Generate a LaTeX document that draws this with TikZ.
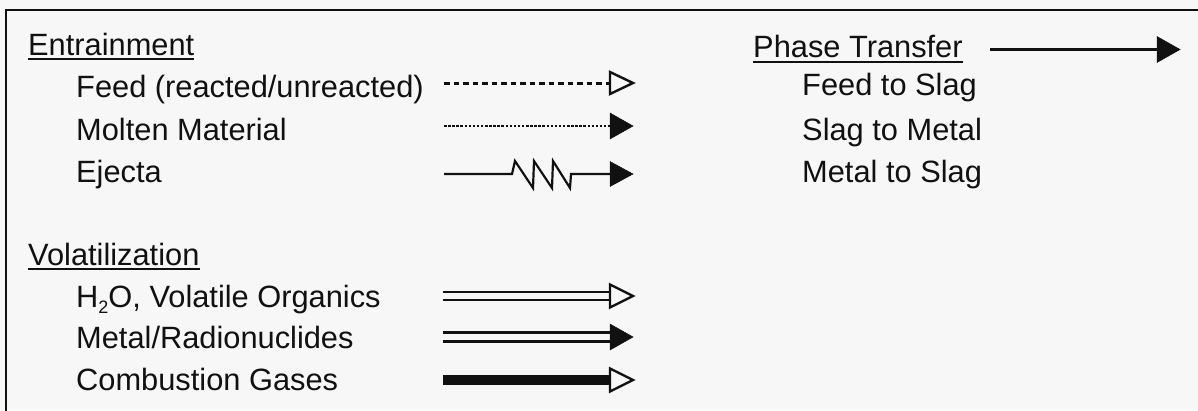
\documentclass[tikz,border=0pt]{standalone}
\usepackage{fontspec}
\setmainfont{Liberation Sans}
\definecolor{bgc}{HTML}{F7F7F7}
\definecolor{ink}{HTML}{111111}
\newcommand{\legtri}[4]{%
  \filldraw[line width=#4, line join=miter, draw=ink, fill=#3]
    ([yshift=#2pt]#1) -- ([xshift=23pt]#1) -- ([yshift=-#2pt]#1) -- cycle;}
\begin{document}
\begin{tikzpicture}[x=1pt,y=-1pt,
  lbl/.style={anchor=base west, inner sep=0pt, text=ink, font=\fontsize{30.8}{36}\selectfont},
  uline/.style={draw=ink, line width=2pt},
  legline/.style={draw=ink, line width=2.2pt}]
\fill[bgc] (0,0) rectangle (1198,410);
\useasboundingbox (0,0) rectangle (1198,410);
\draw[ink, line width=2pt] (6,412) -- (6,9.5) -- (1200,9.5);

% left column
\node[lbl] (entr) at (28,55) {Entrainment};
\draw[uline] ([yshift=-4pt]entr.base west) -- ([yshift=-4pt]entr.base east);
\node[lbl] (feed) at (76,97) {Feed (reacted/unreacted)};
\node[lbl] (molten) at (76,140) {Molten Material};
\node[lbl] (ejecta) at (76,182) {Ejecta};
\node[lbl] (vol) at (28,265) {Volatilization};
\draw[uline] ([yshift=-4pt]vol.base west) -- ([yshift=-4pt]vol.base east);
\node[lbl] (h2o) at (76,307) {H\raisebox{-6pt}{\fontsize{18}{18}\selectfont 2}O, Volatile Organics};
\node[lbl] (metrad) at (76,348) {Metal/Radionuclides};
\node[lbl] (comb) at (76,390) {Combustion Gases};

% right column
\node[lbl] (phase) at (753,57) {Phase Transfer};
\draw[uline] ([yshift=-5pt]phase.base west) -- ([yshift=-5pt]phase.base east);
\node[lbl] (fts) at (802,95) {Feed to Slag};
\node[lbl] (stm) at (802,140) {Slag to Metal};
\node[lbl] (mts) at (802,182) {Metal to Slag};

% legend arrow coordinates
\coordinate (fa) at (444,83);   \coordinate (fb) at (610,83);
\coordinate (ma) at (444,126);  \coordinate (mb) at (610,126);
\coordinate (ea) at (444,174);  \coordinate (eb) at (610,174);
\coordinate (ha) at (443,296);  \coordinate (hb) at (610,296);
\coordinate (ra) at (443,337);  \coordinate (rb) at (610,337);
\coordinate (ca) at (443,380);  \coordinate (cb) at (610,380);
\coordinate (pa) at (990,49.5); \coordinate (pb) at (1157,49.5);

% Feed: dashed, open head
\draw[ink, line width=3pt, dash pattern=on 5.5pt off 4pt] (fa) -- (fb);
\legtri{fb}{11}{bgc}{2.4pt}
% Molten: dotted, filled head
\draw[ink, line width=2pt, dash pattern=on 2.5pt off 1.6pt] (ma) -- (mb);
\legtri{mb}{13}{ink}{0.5pt}
% Ejecta: sawtooth, filled head
\draw[legline, line join=miter] (ea) -- (512,174) -- (515,161) -- (533,188) -- (534,161) -- (552,188) -- (553,161) -- (570,188) -- (571,174) -- (eb);
\legtri{eb}{12.5}{ink}{0.5pt}
% H2O: double, open head
\draw[draw=ink, line width=2.2pt, double=bgc, double distance=6pt] (ha) -- (hb);
\legtri{hb}{11.5}{bgc}{2.4pt}
% Metal/Radionuclides: double, filled head
\draw[draw=ink, line width=2.2pt, double=bgc, double distance=6.8pt] (ra) -- (rb);
\legtri{rb}{13}{ink}{0.5pt}
% Combustion: thick, open head
\draw[ink, line width=10pt] (ca) -- ([xshift=1pt]cb);
\legtri{cb}{11.5}{bgc}{2.4pt}
% Phase transfer: solid, filled head
\draw[ink, line width=2.6pt] (pa) -- (pb);
\legtri{pb}{13}{ink}{0.5pt}
\end{tikzpicture}
\end{document}
